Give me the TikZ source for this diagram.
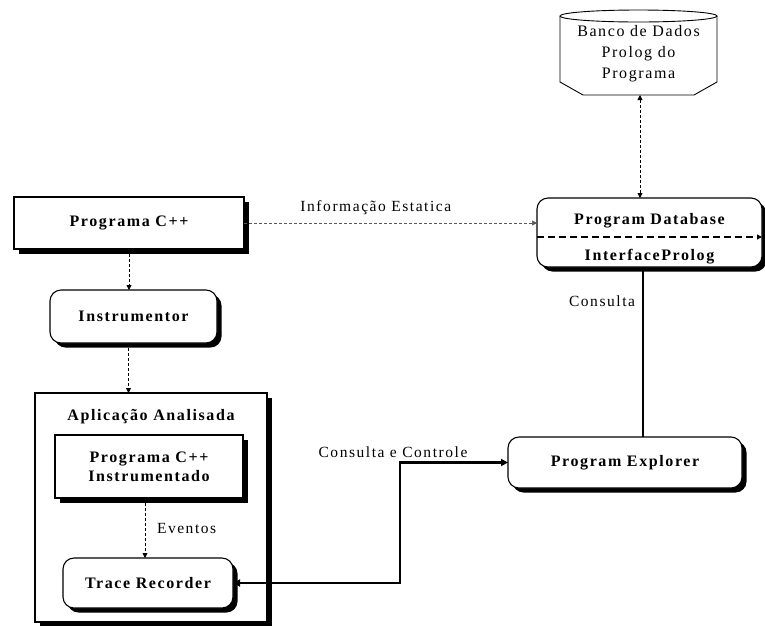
\documentclass[tikz,border=0pt]{standalone}
\usepackage{fontspec}
\setmainfont{Liberation Serif}[LetterSpace=10]
\usetikzlibrary{arrows.meta,shadows}
\begin{document}
\begin{tikzpicture}[x=1pt,y=-1pt,
  every node/.style={inner sep=0pt, outer sep=0pt},
  shade/.style={drop shadow={shadow xshift=4.5pt, shadow yshift=-4.5pt, fill=black, opacity=1}},
  boldtext/.style={font=\fontsize{16}{18}\selectfont\bfseries},
  boxnode/.style={draw, line width=1.1pt, fill=white, shade, boldtext, align=center},
  roundnode/.style={boxnode, rounded corners=11pt},
  edgelabel/.style={font=\fontsize{15.5}{17}\selectfont},
  dasharrow/.style={densely dashed, line width=0.8pt, -{Triangle[length=5pt,width=5pt]}},
  dashboth/.style={densely dashed, line width=0.8pt, {Triangle[length=5pt,width=5pt]}-{Triangle[length=5pt,width=5pt]}},
  heavy/.style={line width=2.2pt},
]
\useasboundingbox (0,0) rectangle (765,625);
\fill[white] (0,0) rectangle (765,625);

% outer container of the analysed application
\node[draw, line width=1.1pt, fill=white, shade, minimum width=232pt, minimum height=229pt] (app) at (151,507.5) {};
\node[boldtext] (apptitle) at (151,417) {Aplicação Analisada};

% boxes
\node[boxnode, minimum width=230pt, minimum height=52pt] (prog) at (129,223) {Programa C++};
\node[roundnode, minimum width=167pt, minimum height=53pt] (instr) at (133.5,316.5) {Instrumentor};
\node[boxnode, minimum width=188pt, minimum height=63pt] (progi) at (149,466.5) {Programa C++\\[1pt]Instrumentado};
\node[roundnode, minimum width=170pt, minimum height=50pt] (trace) at (148,583) {Trace Recorder};
\node[roundnode, minimum width=234pt, minimum height=51pt] (pexp) at (625,462.5) {Program Explorer};
\node[roundnode, minimum width=225pt, minimum height=69pt] (pdb) at (649.5,232.5) {};
\node[boldtext] (pdbtop) at (649.5,221) {Program Database};
\node[boldtext] (pdbbot) at (649.5,257) {InterfaceProlog};
\draw[dashed, dash pattern=on 7pt off 4pt, line width=1.1pt, -{Triangle[length=5pt,width=5pt]}]
  ([yshift=-4.5pt]pdb.west) -- ([yshift=-4.5pt]pdb.east);

% program fact store (disk shape)
\node[minimum width=157pt, minimum height=85pt] (banco) at (638.5,52.5) {};
\draw[line width=0.9pt, fill=white]
  ([yshift=-6pt]banco.north west) -- ([yshift=13pt]banco.south west) -- ([xshift=23pt]banco.south west)
  -- ([xshift=-23pt]banco.south east) -- ([yshift=13pt]banco.south east) -- ([yshift=-6pt]banco.north east);
\draw[line width=0.9pt, fill=white] ([yshift=-6pt]banco.north) ellipse (78.5pt and 6pt);
\node[align=center, font=\fontsize{16}{21}\selectfont] (bancotext) at (638.5,54) {Banco de Dados\\Prolog do\\Programa};

% connectors
\draw[dasharrow] (prog.south) -- (prog.south |- instr.north);
\draw[dasharrow] ([xshift=-5pt]instr.south) -- ([xshift=-5pt]instr.south |- app.north);
\draw[dasharrow, gray!70!black, line width=0.6pt] (prog.east) -- (prog.east -| pdb.west)
  node[edgelabel, black, pos=0.45, above=8pt] (infolabel) {Informação Estatica};
\draw[dashboth] ([xshift=1.5pt]banco.south) -- ([xshift=1.5pt]banco.south |- pdb.north);
\draw[heavy] ([xshift=-6.5pt]pdb.south) -- ([xshift=-6.5pt]pdb.south |- pexp.north)
  node[edgelabel, pos=0.2, left=8pt] (conslabel) {Consulta};
\draw[dasharrow] ([xshift=-4pt]progi.south) -- ([xshift=-4pt]progi.south |- trace.north)
  node[edgelabel, pos=0.5, right=12pt] (evlabel) {Eventos};
\draw[heavy, {Triangle[length=7pt,width=7pt]}-{Triangle[length=7pt,width=7pt]}]
  (trace.east) -- ++(167,0) coordinate (turn) |- (pexp.west);
\node[edgelabel] (cclabel) at (393,452) {Consulta e Controle};
\end{tikzpicture}
\end{document}
